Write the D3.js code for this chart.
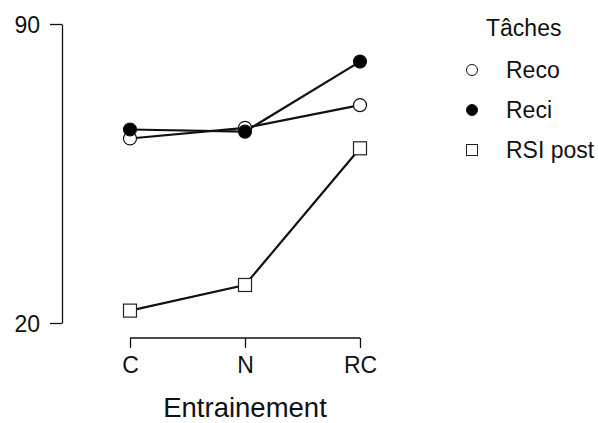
<!DOCTYPE html>
<html><head><meta charset="utf-8">
<script src="https://cdn.jsdelivr.net/npm/d3@7"></script>
<style>body{margin:0;background:#fff;overflow:hidden}svg{display:block}text{font-family:"Liberation Sans",Arial,sans-serif;fill:#111}</style>
</head><body>
<script>
const categories = ["C", "N", "RC"];
const reco = [63.2, 65.7, 71.0];
const reci = [65.3, 64.8, 81.2];
const rsiPost = [22.9, 28.9, 60.9];
const seriesNames = ["Reco", "Reci", "RSI post"];
const yTicks = [20, 90];
const legendTitle = "Tâches";
const xTitle = "Entrainement";

const W = 598, H = 423;
const svg = d3.select("body").append("svg").attr("width", W).attr("height", H);
const x = d3.scalePoint().domain(categories).range([130, 360]);
const y = d3.scaleLinear().domain([20, 90]).range([323, 24]);

// y axis
const yAx = svg.append("g").attr("transform", "translate(62,0)")
  .call(d3.axisLeft(y).tickValues(yTicks).tickSize(12).tickSizeOuter(0).tickPadding(10));
yAx.select(".domain").attr("stroke", "#111").attr("stroke-width", 1.3);
yAx.selectAll(".tick line").attr("stroke", "#111").attr("stroke-width", 1.3);
yAx.selectAll(".tick text").attr("font-size", 23).attr("dy", "0.36em").style("font-family", "'Liberation Sans',Arial,sans-serif").attr("fill", "#111");

// x axis
const xAx = svg.append("g").attr("transform", "translate(0,338)")
  .call(d3.axisBottom(x).tickSize(10).tickSizeOuter(0).tickPadding(9));
xAx.select(".domain").attr("stroke", "#111").attr("stroke-width", 1.6).attr("d", `M${x("C")},0H${x("RC")}`);
xAx.selectAll(".tick line").attr("stroke", "#111").attr("stroke-width", 1.3);
xAx.selectAll(".tick text").attr("font-size", 23).style("font-family", "'Liberation Sans',Arial,sans-serif").attr("fill", "#111");

svg.append("text").attr("x", 245).attr("y", 417).attr("text-anchor", "middle").attr("font-size", 27.5).text(xTitle);

const data = [
  {name: seriesNames[0], vals: reco, shape: "circle", fill: "#fff"},
  {name: seriesNames[1], vals: reci, shape: "circle", fill: "#000"},
  {name: seriesNames[2], vals: rsiPost, shape: "square", fill: "#fff"}
];
const line = d3.line().x((d, i) => x(categories[i])).y(d => y(d));
data.forEach(s => {
  svg.append("path").attr("d", line(s.vals)).attr("fill", "none").attr("stroke", "#111").attr("stroke-width", 2.2);
});
function marker(g, shape, fill, cx, cy, r, sw) {
  if (shape === "circle") g.append("circle").attr("cx", cx).attr("cy", cy).attr("r", r).attr("fill", fill).attr("stroke", "#111").attr("stroke-width", sw);
  else g.append("rect").attr("x", cx - r).attr("y", cy - r).attr("width", 2 * r).attr("height", 2 * r).attr("fill", fill).attr("stroke", "#222").attr("stroke-width", sw);
}
data.forEach(s => {
  s.vals.forEach((v, i) => marker(svg, s.shape, s.fill, x(categories[i]), y(v), 6.5, 1.2));
});

// legend
svg.append("text").attr("x", 486).attr("y", 36).attr("font-size", 23).text(legendTitle);
data.forEach((s, i) => {
  const cy = 70 + i * 40;
  marker(svg, s.shape, s.fill, 472, cy, 5.5, 1);
  svg.append("text").attr("x", 506).attr("y", cy + 8).attr("font-size", 23).text(s.name);
});
</script>
</body></html>
